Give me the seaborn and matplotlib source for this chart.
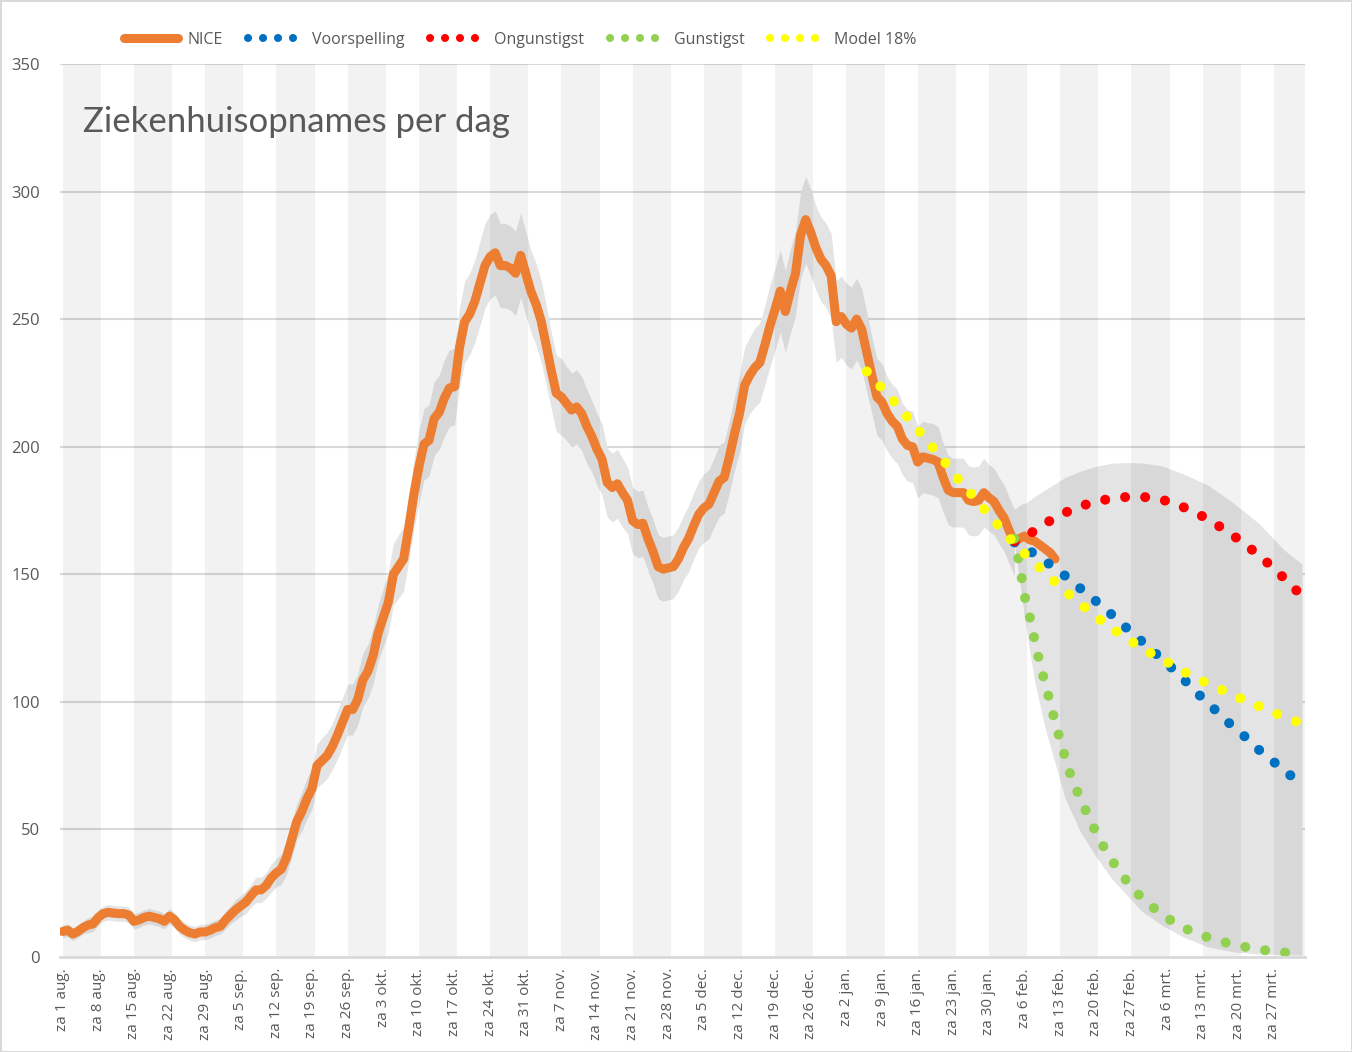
import numpy as np
import seaborn as sns
import matplotlib.pyplot as plt
from matplotlib.lines import Line2D

# ziekenhuisopnames per dag (NICE), dag 0 = za 1 aug.
nice = [
    10, 10.5, 9, 10, 11.5, 12.5, 13,
    15.5, 17, 17.5, 17.2, 17, 17, 16.5,
    14, 14.5, 15.5, 16, 15.5, 15, 14,
    16, 14.5, 12, 10.5, 9.5, 9, 9.8,
    9.8, 10.5, 11.5, 12, 14.5, 16.5, 18.5,
    20, 21.5, 24, 26.3, 26.3, 28, 31,
    33, 34.5, 39, 46, 53, 57, 62,
    66, 75, 77, 79, 82.5, 87, 92,
    97, 97, 101, 108.6, 112, 118, 127,
    133, 139, 150, 153, 156, 168, 181,
    192, 201, 202.5, 211, 213.5, 219, 223,
    223.5, 239, 249, 252, 257, 264, 271,
    274.5, 276, 271, 271, 270, 268, 275,
    268, 261, 256, 249.5, 240, 230, 221,
    219.5, 217, 214.4, 215.6, 213, 208, 204,
    199, 195, 186, 184, 185.5, 182, 179,
    171, 169.5, 170, 164, 159, 153, 152,
    152.5, 153, 156, 160.5, 164, 169, 173.5,
    176, 177.5, 182, 186.5, 188, 196, 205,
    213, 224, 228, 231, 233, 240, 247.5,
    254, 261, 253, 261, 268, 283, 289,
    284, 278, 273.5, 271, 267, 249, 251,
    248, 246.5, 250, 246, 237, 228, 219.5,
    217.5, 213, 210, 208, 203, 200.5, 200,
    194, 196, 195.5, 195, 194, 188, 183,
    182, 182, 182, 179, 178.5, 179, 182,
    180, 178.5, 175, 172, 167, 162.5, 164,
    165, 163.5, 163, 161.5, 160, 158.5, 156,
]

# halve breedte van de grijze band rond NICE
nice_spread = [
    2.5, 2.5, 2.5, 2.5, 2.5, 3, 3,
    3, 3, 3, 3, 3, 3, 3,
    3, 3, 3, 3, 3, 3, 3,
    3, 3, 3, 3, 3, 3, 3,
    3, 3, 3, 3, 3.5, 3.5, 4,
    4, 4.5, 4.5, 5, 5, 5, 5.5,
    5.5, 6, 6.5, 7, 7, 7.5, 8,
    8, 8.5, 9, 9, 9, 9.5, 9.5,
    10, 10, 10, 10.5, 10.5, 11, 11,
    11.5, 12, 12, 12.5, 12.5, 13, 13.5,
    14, 14, 14, 14.5, 14.5, 15, 15,
    15, 15.5, 16, 16, 16, 16.5, 16.5,
    16.5, 16.5, 16.5, 16.5, 16.5, 16.5, 16.5,
    16.5, 16, 16, 16, 15.5, 15, 15,
    15, 14.5, 14.5, 14.5, 14.5, 14.5, 14,
    14, 14, 13.5, 13.5, 13.5, 13.5, 13,
    13, 13, 13, 12.5, 12.5, 12.5, 12.5,
    12.5, 12.5, 12.5, 12.5, 13, 13, 13,
    13.5, 13.5, 13.5, 14, 14, 14, 14.5,
    15, 15, 15, 15.5, 15.5, 15.5, 16,
    16, 16, 16, 16.5, 16.5, 17, 17,
    17, 16.5, 16.5, 16.5, 16.5, 16, 16,
    16, 16, 16, 16, 15.5, 15, 15,
    15, 14.5, 14.5, 14.5, 14, 14, 14,
    14, 14, 14, 14, 14, 13.5, 13.5,
    13.5, 13.5, 13.5, 13.5, 13.5, 13.5, 13.5,
    13, 13, 13, 13, 13, 13, 13,
    13, 13, 13, 13, 13, 13, 13,
]

# prognoses
fc_days = [187, 190, 193, 196, 199, 202, 205, 208, 211, 214, 217, 220,
           223, 226, 229, 232, 235, 238, 241, 243]
voorspelling = [162.5, 159.2, 155.2, 151, 146, 141.2, 136.2, 130.8, 125.5, 120.3,
                115, 109.4, 103.3, 97.7, 92, 86.9, 81.3, 76.4, 71.6, 68.2]
ongunstigst = [163, 165.8, 169.8, 173.3, 175.9, 178, 179.3, 180.2, 180.4, 180.1,
               178.7, 176.5, 173.8, 170.4, 166.6, 162.3, 157.5, 152.3, 146.5, 142.5]

gunstig_days = [187, 188, 189, 190, 191, 192, 193, 194, 195, 196, 197, 198, 199, 200,
                202, 204, 206, 208, 210, 212, 215, 218, 221, 225, 229, 233, 237, 241, 243]
gunstigst = [164, 154, 141.5, 133.5, 124, 115, 107.5, 100, 92, 85, 78, 71.5, 66.5, 62,
             53, 45, 38.3, 32.5, 27.5, 23.2, 18.2, 14, 10.8, 7.7, 5.4, 3.7, 2.4, 1.6, 1.3]

model_days = [158, 161, 164, 167, 170, 173, 176, 179, 182, 185, 188, 191, 194, 197, 200,
              203, 206, 209, 212, 215, 218, 221, 224, 227, 230, 233, 236, 239, 242, 243]
model18 = [229.5, 222.9, 216.3, 209.2, 202, 194.8, 187.2, 180.4, 173.3, 166.5, 160, 154.5,
           148.8, 143.3, 138.4, 133.4, 129, 125, 121.2, 117.7, 114.5, 111, 108.1, 105.4,
           102.6, 100, 97.5, 94.9, 92.6, 91.8]

# onzekerheidswaaier van de prognose
fan_days = [187, 188, 189, 190, 191, 193, 195, 197, 200, 203, 206, 209, 212, 216,
            220, 225, 230, 235, 240, 243.5]
fan_lo = [163, 148, 133, 120, 108, 90, 76, 62, 49, 39.5, 31, 24.5, 18, 12.5,
          8, 4, 2, 1.2, 0.9, 0.8]
fan_hi = [174.5, 176, 177.5, 179, 180.5, 183, 185.5, 188, 190.4, 192.3, 193.5, 193.8,
          193.6, 192.5, 189.5, 185, 178, 170, 159.5, 154]

tick_days = list(range(0, 239, 7))
tick_labels = [
    'za 1 aug.', 'za 8 aug.', 'za 15 aug.', 'za 22 aug.', 'za 29 aug.',
    'za 5 sep.', 'za 12 sep.', 'za 19 sep.', 'za 26 sep.', 'za 3 okt.',
    'za 10 okt.', 'za 17 okt.', 'za 24 okt.', 'za 31 okt.', 'za 7 nov.',
    'za 14 nov.', 'za 21 nov.', 'za 28 nov.', 'za 5 dec.', 'za 12 dec.',
    'za 19 dec.', 'za 26 dec.', 'za 2 jan.', 'za 9 jan.', 'za 16 jan.',
    'za 23 jan.', 'za 30 jan.', 'za 6 feb.', 'za 13 feb.', 'za 20 feb.',
    'za 27 feb.', 'za 6 mrt.', 'za 13 mrt.', 'za 20 mrt.', 'za 27 mrt.',
]

ORANGE = '#ed7d31'
BLUE = '#0070c0'
RED = '#ff0000'
GREEN = '#92d050'
YELLOW = '#ffff00'
TEXT = '#595959'
GRID = '#d9d9d9'
BAND = '#e4e4e4'

sns.set_style('white')
plt.rcParams['font.family'] = ['Open Sans', 'DejaVu Sans']

fig = plt.figure(figsize=(13.52, 10.52), dpi=100)
fig.patch.set_edgecolor(GRID)
fig.patch.set_linewidth(2)
ax = fig.add_axes([59.5 / 1352, 1 - 957 / 1052, 1245 / 1352, 893 / 1052])

days = np.arange(len(nice))
nice_arr = np.array(nice)
spread = np.array(nice_spread)
lo = nice_arr - spread
hi = nice_arr + spread

# gridlines, hidden below the stacked areas
for v in range(50, 351, 50):
    ax.axhline(v, color=GRID, lw=1.5, zorder=0.5)

ax.fill_between(days, 0, lo, color='white', lw=0, zorder=1)
ax.fill_between(days, lo, hi, color=BAND, lw=0, zorder=1.2)
ax.fill_between(fan_days, 0, fan_lo, color='white', lw=0, zorder=1.3)
ax.fill_between(fan_days, fan_lo, fan_hi, color=BAND, lw=0, zorder=1.4)

# alternating week columns
ax.bar(list(range(0, 244, 14)), 350, width=7.5, align='edge', color='black',
       alpha=0.05, lw=0, zorder=2)

dot = (0, (0.01, 2.0))
sns.lineplot(x=days, y=nice_arr, ax=ax, color=ORANGE, lw=6.5, zorder=3,
             solid_joinstyle='round', solid_capstyle='round')
sns.lineplot(x=fc_days, y=voorspelling, ax=ax, color=BLUE, lw=7.2, linestyle=dot,
             dash_capstyle='round', zorder=4)
sns.lineplot(x=fc_days, y=ongunstigst, ax=ax, color=RED, lw=7.2, linestyle=dot,
             dash_capstyle='round', zorder=4.1)
sns.lineplot(x=gunstig_days, y=gunstigst, ax=ax, color=GREEN, lw=7.2, linestyle=dot,
             dash_capstyle='round', zorder=4.2)
sns.lineplot(x=model_days, y=model18, ax=ax, color=YELLOW, lw=7.2, linestyle=dot,
             dash_capstyle='round', zorder=4.3)

ax.set_xlim(-0.6, 244)
ax.set_ylim(0, 350)
ax.set_yticks(range(0, 351, 50))
ax.set_xticks(tick_days)
ax.set_xticklabels(tick_labels, rotation=90, va='top', ha='center')
ax.tick_params(axis='y', length=0, pad=14, labelsize=12, labelcolor=TEXT)
ax.tick_params(axis='x', length=0, pad=8, labelsize=11, labelcolor=TEXT)
ax.set_xlabel('')
ax.set_ylabel('')
for side in ['left', 'right', 'top']:
    ax.spines[side].set_visible(False)
ax.spines['bottom'].set_color(GRID)
ax.spines['bottom'].set_linewidth(2)
ax.spines['bottom'].set_zorder(5)

fig.text(83 / 1352, 1 - 132 / 1052, 'Ziekenhuisopnames per dag', fontsize=25,
         family=['Lato', 'DejaVu Sans'], color=TEXT, va='baseline', ha='left')

dot_leg = (0, (0.01, 1.85))
handles = [
    Line2D([], [], color=ORANGE, lw=6.5, solid_capstyle='round'),
    Line2D([], [], color=BLUE, lw=5.8, linestyle=dot_leg, dash_capstyle='round'),
    Line2D([], [], color=RED, lw=5.8, linestyle=dot_leg, dash_capstyle='round'),
    Line2D([], [], color=GREEN, lw=5.8, linestyle=dot_leg, dash_capstyle='round'),
    Line2D([], [], color=YELLOW, lw=5.8, linestyle=dot_leg, dash_capstyle='round'),
]
fig.legend(handles, ['NICE', 'Voorspelling', 'Ongunstigst', 'Gunstigst', 'Model 18%'],
           loc='center', bbox_to_anchor=(520 / 1352, 1 - 40 / 1052), ncol=5,
           frameon=False, fontsize=11.5, labelcolor=TEXT, handlelength=3.4,
           handletextpad=0.6, columnspacing=1.6)

fig.savefig('out.png', dpi=100)
